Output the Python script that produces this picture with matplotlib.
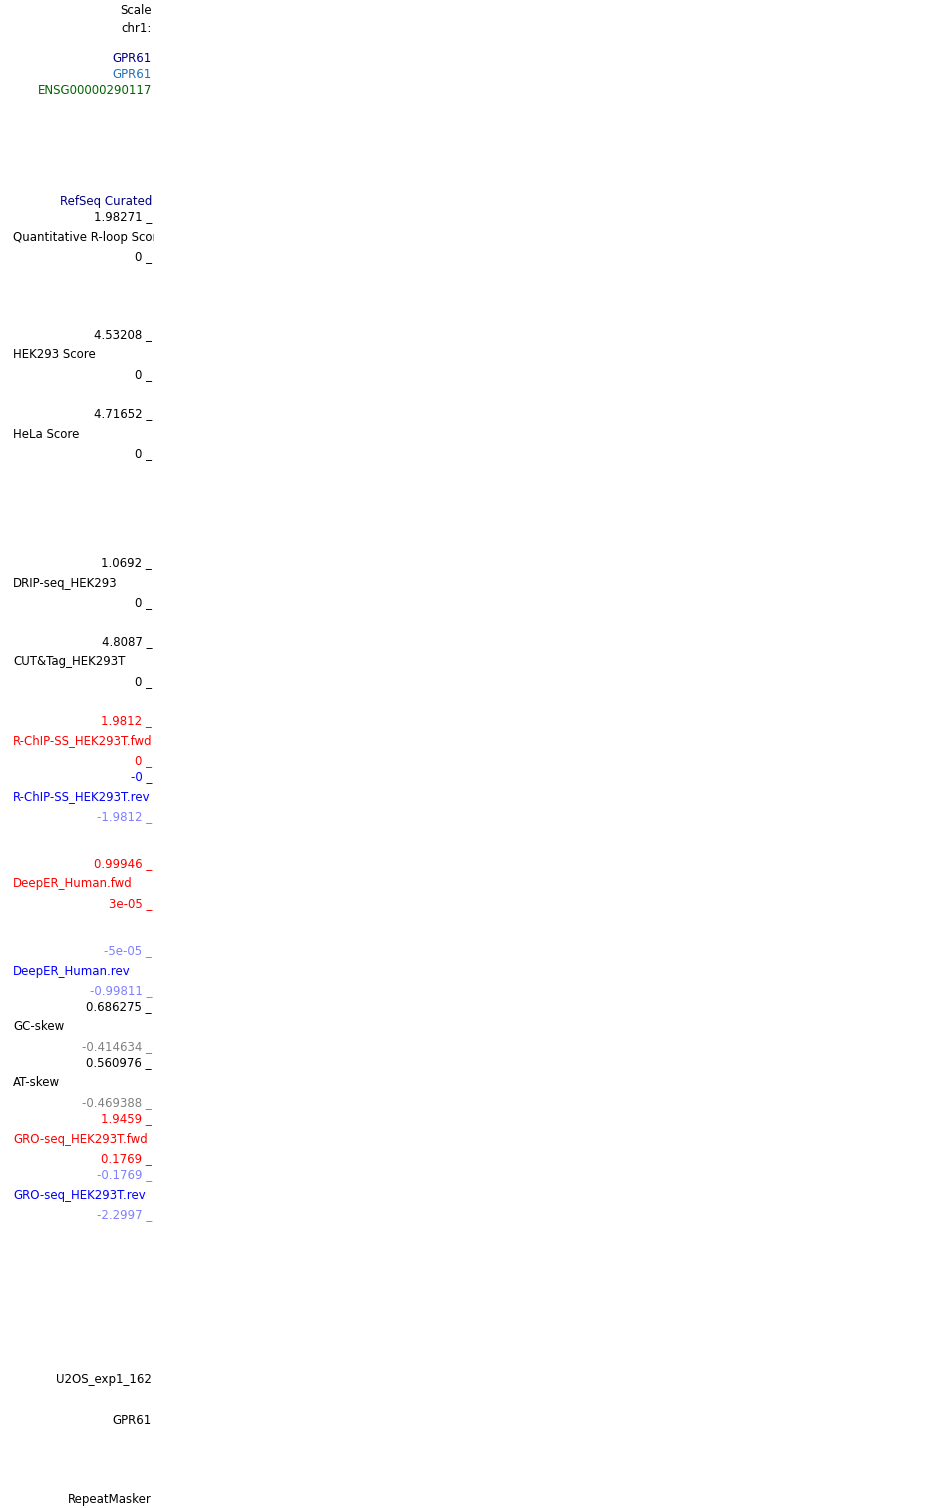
import matplotlib
matplotlib.use("Agg")
import matplotlib.pyplot as plt

# Track labels of the genome browser side panel
NAVY = "#000080"
STEEL = "#1f70b4"
GREEN = "#006400"
RED = "#ff0000"
BLUE = "#0000ff"
LBLUE = "#8080ff"
GRAY = "#808080"
BLACK = "#000000"

labels = ["Scale", "chr1:", "GPR61", "GPR61", "ENSG00000290117", "RefSeq Curated",
          "1.98271 _", "Quantitative R-loop Score", "0 _",
          "4.53208 _", "HEK293 Score", "0 _",
          "4.71652 _", "HeLa Score", "0 _",
          "1.0692 _", "DRIP-seq_HEK293", "0 _",
          "4.8087 _", "CUT&Tag_HEK293T", "0 _",
          "1.9812 _", "R-ChIP-SS_HEK293T.fwd", "0 _",
          "-0 _", "R-ChIP-SS_HEK293T.rev", "-1.9812 _",
          "0.99946 _", "DeepER_Human.fwd", "3e-05 _",
          "-5e-05 _", "DeepER_Human.rev", "-0.99811 _",
          "0.686275 _", "GC-skew", "-0.414634 _",
          "0.560976 _", "AT-skew", "-0.469388 _",
          "1.9459 _", "GRO-seq_HEK293T.fwd", "0.1769 _",
          "-0.1769 _", "GRO-seq_HEK293T.rev", "-2.2997 _",
          "U2OS_exp1_162", "GPR61", "RepeatMasker"]

rows = [10, 27, 57, 73, 89, 200,
        216, 236, 256,
        334, 354, 374,
        413, 433, 453,
        562, 582, 602,
        641, 661, 681,
        720, 740, 760,
        776, 796, 816,
        863, 883, 903,
        950, 970, 990,
        1006, 1026, 1046,
        1062, 1082, 1102,
        1118, 1138, 1158,
        1174, 1194, 1214,
        1378, 1419, 1499]

colors = [BLACK, BLACK, NAVY, STEEL, GREEN, NAVY,
          BLACK, BLACK, BLACK,
          BLACK, BLACK, BLACK,
          BLACK, BLACK, BLACK,
          BLACK, BLACK, BLACK,
          BLACK, BLACK, BLACK,
          RED, RED, RED,
          BLUE, BLUE, LBLUE,
          RED, RED, RED,
          LBLUE, BLUE, LBLUE,
          BLACK, BLACK, GRAY,
          BLACK, BLACK, GRAY,
          RED, RED, RED,
          LBLUE, BLUE, LBLUE,
          BLACK, BLACK, BLACK]

# track names sit on the left, everything else is right aligned
left_names = {"Quantitative R-loop Score", "HEK293 Score", "HeLa Score",
              "DRIP-seq_HEK293", "CUT&Tag_HEK293T", "R-ChIP-SS_HEK293T.fwd",
              "R-ChIP-SS_HEK293T.rev", "DeepER_Human.fwd", "DeepER_Human.rev",
              "GC-skew", "AT-skew", "GRO-seq_HEK293T.fwd", "GRO-seq_HEK293T.rev"}

fig = plt.figure(figsize=(9.5, 15.08), dpi=100)
ax = fig.add_axes([0, 0, 154 / 950, 1])
ax.set_xlim(0, 154)
ax.set_ylim(1508, 0)
ax.axis("off")

for lab, y, c in zip(labels, rows, colors):
    if lab in left_names:
        ax.text(13, y + 1, lab, ha="left", va="center", color=c, fontsize=8.5,
                family="DejaVu Sans", clip_on=True)
    else:
        ax.text(152, y + 1, lab, ha="right", va="center", color=c, fontsize=8.5,
                family="DejaVu Sans", clip_on=True)

fig.savefig("out.png", dpi=100, facecolor="white")
